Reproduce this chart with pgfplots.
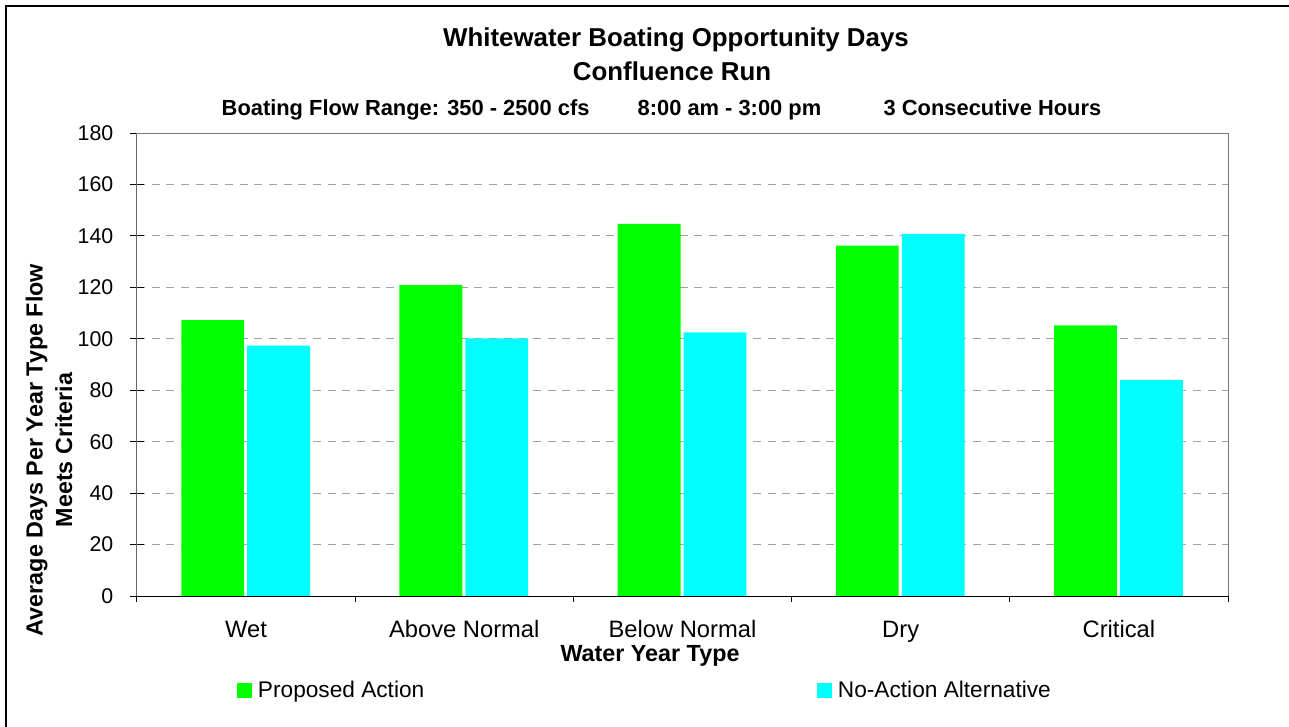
\documentclass[border=0pt]{standalone}
\usepackage{fontspec}
\setmainfont{Liberation Sans}
\usepackage{pgfplots}
\pgfplotsset{compat=1.18}
\definecolor{PropGreen}{RGB}{0,255,0}
\definecolor{NoActCyan}{RGB}{0,255,255}
\definecolor{GridGray}{RGB}{160,160,160}
\definecolor{BoxGray}{RGB}{120,120,120}

\begin{document}
\begin{tikzpicture}[x=0.75pt,y=0.75pt]
\useasboundingbox (0,0) rectangle (1289,726);
\draw[black, line width=1pt] (6,-4) -- (6,720) -- (1293,720);

\begin{axis}[
    at={(102.75pt,97.5pt)}, anchor=south west,
    scale only axis,
    width=818.25pt, height=347.25pt,
    ybar, bar width=0.288,
    xmin=-0.5, xmax=4.5,
    ymin=0, ymax=180,
    tick pos=left,
    xtick={0,1,2,3,4},
    xticklabels={Wet, Above Normal, Below Normal, Dry, Critical},
    xtick style={draw=none},
    extra x ticks={-0.5,0.5,1.5,2.5,3.5,4.5},
    extra x tick labels={},
    extra x tick style={tick align=outside, major tick length=4.5pt,
        xtick style={draw=black, line width=0.75pt}},
    ytick={0,20,...,180},
    tick align=center, major tick length=10.5pt,
    ytick style={draw=black, line width=0.75pt},
    ymajorgrids,
    major grid style={GridGray, dash pattern=on 6pt off 5pt, line width=0.75pt},
    axis line style={BoxGray, line width=0.75pt},
    /pgf/number format/assume math mode=true,
    yticklabel style={font=\fontsize{16}{19}\selectfont, xshift=-9pt},
    xticklabel style={font=\fontsize{17.8}{21}\selectfont, yshift=-9.75pt},
    legend columns=2,
    legend image code/.code={\fill[#1] (0pt,-5.6pt) rectangle (11.25pt,5.6pt);
        \path (0pt,0pt) -- (13.5pt,0pt);},
    legend style={at={(0.0917,-0.204)}, anchor=west, draw=none, fill=none,
        inner sep=0pt, font=\fontsize{17}{20}\selectfont,
        /tikz/every even column/.append style={column sep=292.75pt}},
]

\addlegendimage{fill=PropGreen, draw=none}
\addlegendentry{Proposed Action}
\addlegendimage{fill=NoActCyan, draw=none}
\addlegendentry{No-Action Alternative}

\addplot[fill=PropGreen, draw=none, bar shift=-0.153, forget plot] coordinates {
    (0,107.3) (1,121.0) (2,144.7) (3,136.2) (4,105.2)
};
\addplot[fill=NoActCyan, draw=none, bar shift=0.149, forget plot] coordinates {
    (0,97.3) (1,100.2) (2,102.5) (3,140.8) (4,84.0)
};

\draw[black, line width=0.75pt] (rel axis cs:0,1) -- (rel axis cs:0,0) -- (rel axis cs:1,0);
\end{axis}

% titles and axis labels
\node[anchor=base, font=\fontsize{19.4}{22}\selectfont\bfseries] at (676,679) {Whitewater Boating Opportunity Days};
\node[anchor=base, font=\fontsize{19.4}{22}\selectfont\bfseries] at (672,645) {Confluence Run};
\node[anchor=base west, font=\fontsize{16.4}{19}\selectfont\bfseries] at (217,610) {Boating Flow Range: 350 - 2500 cfs};
\node[anchor=base west, font=\fontsize{16.4}{19}\selectfont\bfseries] at (633,610) {8:00 am - 3:00 pm};
\node[anchor=base west, font=\fontsize{16.4}{19}\selectfont\bfseries] at (879,610) {3 Consecutive Hours};
\node[rotate=90, align=center, font=\fontsize{17.5}{22}\selectfont\bfseries] at (49,276) {Average Days Per Year Type Flow\\Meets Criteria};
\node[anchor=base, font=\fontsize{17.5}{21}\selectfont\bfseries] at (650,65) {Water Year Type};
\end{tikzpicture}
\end{document}
